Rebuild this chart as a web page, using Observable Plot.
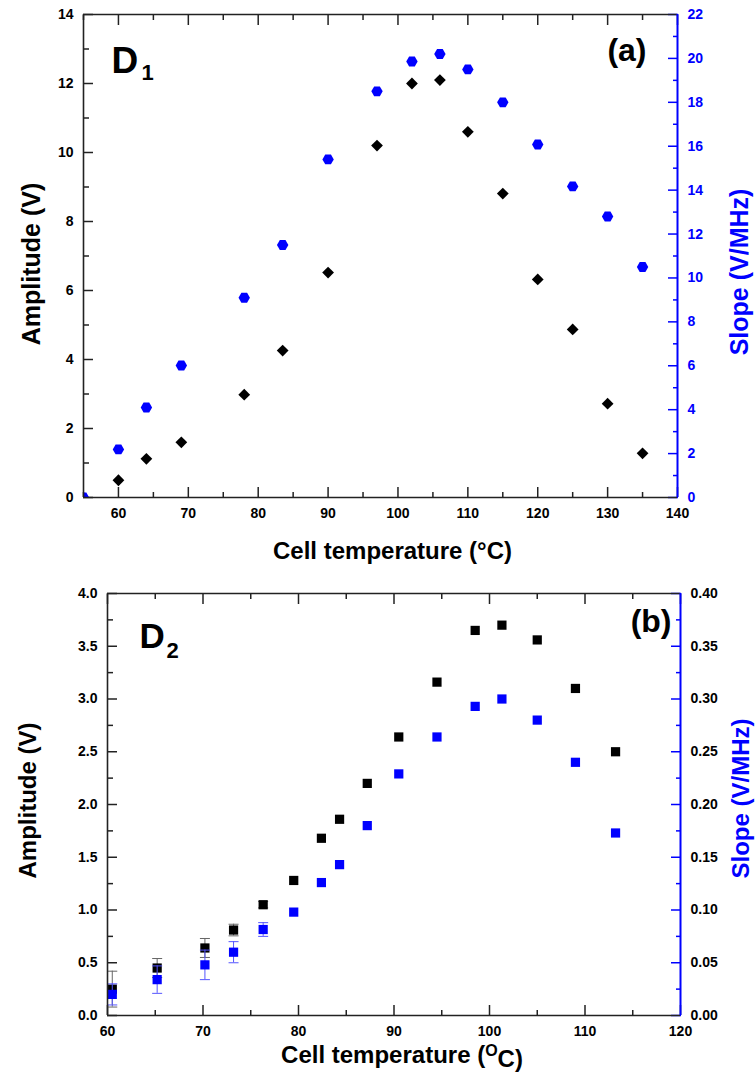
<!DOCTYPE html>
<html><head><meta charset="utf-8">
<script src="https://cdn.jsdelivr.net/npm/d3@7"></script>
<script src="https://cdn.jsdelivr.net/npm/@observablehq/plot@0.6"></script>
<style>
body{margin:0;background:#fff;}
#wrap{width:756px;height:1074px;}
#wrap svg{display:block;}
</style></head><body><div id="wrap"></div>
<script>
// ---------- Panel (a) data ----------
const tempAmpA  = [60, 64, 69, 78, 83.5, 90, 97, 102, 106, 110, 115, 120, 125, 130, 135];
const ampA      = [0.5, 1.12, 1.6, 2.98, 4.26, 6.52, 10.2, 12.0, 12.1, 10.6, 8.81, 6.32, 4.87, 2.72, 1.28];
const tempSlopeA = [55, 60, 64, 69, 78, 83.5, 90, 97, 102, 106, 110, 115, 120, 125, 130, 135];
const slopeA    = [0, 2.19, 4.1, 6.01, 9.1, 11.5, 15.4, 18.5, 19.86, 20.2, 19.5, 18.0, 16.08, 14.17, 12.8, 10.5];
const xDomA = [55, 140], yDomA = [0, 14], y2DomA = [0, 22];
const xMajorA = [60, 70, 80, 90, 100, 110, 120, 130, 140];
const xMinorA = [55, 65, 75, 85, 95, 105, 115, 125, 135];
const yMajorA = [0, 2, 4, 6, 8, 10, 12, 14];
const yMinorA = [1, 3, 5, 7, 9, 11, 13];
const y2MajorA = [0, 2, 4, 6, 8, 10, 12, 14, 16, 18, 20, 22];
const y2MinorA = [1, 3, 5, 7, 9, 11, 13, 15, 17, 19, 21];

// ---------- Panel (b) data ----------
const tempB  = [60.5, 65.2, 70.2, 73.2, 76.3, 79.5, 82.4, 84.3, 87.2, 90.5, 94.5, 98.5, 101.3, 105, 109, 113.2];
const ampB   = [0.25, 0.45, 0.64, 0.81, 1.05, 1.28, 1.68, 1.86, 2.2, 2.64, 3.16, 3.65, 3.7, 3.56, 3.1, 2.5];
const slopeB = [0.02, 0.034, 0.048, 0.06, 0.0815, 0.098, 0.126, 0.143, 0.18, 0.229, 0.264, 0.293, 0.30, 0.28, 0.24, 0.173];
const errTempB  = [60.5, 65.2, 70.2, 73.2, 76.3];
const ampErrB   = [0.17, 0.09, 0.09, 0.055, 0.03];
const slopeErrB = [0.01, 0.013, 0.014, 0.01, 0.0065];
const xDomB = [60, 120], yDomB = [0, 4], y2DomB = [0, 0.4];
const xMajorB = [60, 70, 80, 90, 100, 110, 120];
const xMinorB = [65, 75, 85, 95, 105, 115];
const yMajorB = [0, 0.5, 1, 1.5, 2, 2.5, 3, 3.5, 4];
const yMinorB = [0.25, 0.75, 1.25, 1.75, 2.25, 2.75, 3.25, 3.75];
const y2MajorB = [0, 0.05, 0.1, 0.15, 0.2, 0.25, 0.3, 0.35, 0.4];
const y2MinorB = [0.025, 0.075, 0.125, 0.175, 0.225, 0.275, 0.325, 0.375];

const BLUE = "#0000ff";
const FONT = "'Liberation Sans', Arial, Helvetica, sans-serif";

const hexagon = {
  draw(ctx, size) {
    const r = Math.sqrt(size / Math.PI);
    for (let i = 0; i < 6; i++) {
      const a = Math.PI / 3 * i;
      const px = r * Math.cos(a), py = r * Math.sin(a);
      if (i === 0) ctx.moveTo(px, py); else ctx.lineTo(px, py);
    }
    ctx.closePath();
  }
};
const capSymbol = {
  draw(ctx, size) {
    const r = Math.sqrt(size / Math.PI);
    ctx.moveTo(-r, 0); ctx.lineTo(r, 0);
  }
};

function frameMarks(xDom, yDom) {
  return [
    Plot.ruleY([yDom[0], yDom[1]], {stroke: "#222", strokeWidth: 1.6}),
    Plot.ruleX([xDom[0]], {stroke: "#222", strokeWidth: 1.6}),
    Plot.ruleX([xDom[1]], {stroke: BLUE, strokeWidth: 2})
  ];
}
function tickMarks(o) {
  const r = o.ratio;
  const y2Maj = o.y2Major.map(v => v * r), y2Min = o.y2Minor.map(v => v * r);
  const tk = (stroke) => ({fill: "none", label: null, stroke, strokeWidth: 1.5});
  return [
    Plot.axisX(o.xMajor, {anchor: "bottom", tickSize: -10, ...tk("#222")}),
    Plot.axisX(o.xMinor, {anchor: "bottom", tickSize: -5, ...tk("#222")}),
    Plot.axisX(o.xMajor, {anchor: "top", tickSize: -10, ...tk("#222")}),
    Plot.axisX(o.xMinor, {anchor: "top", tickSize: -5, ...tk("#222")}),
    Plot.axisX(o.xMajor, {anchor: "bottom", tickSize: 0, tickPadding: 11, tickFormat: d => String(d),
      label: null, fontSize: 14, fontWeight: "bold", fill: "#000"}),
    Plot.axisY(o.yMajor, {anchor: "left", tickSize: -10, ...tk("#222")}),
    Plot.axisY(o.yMinor, {anchor: "left", tickSize: -6, ...tk("#222")}),
    Plot.axisY(o.yMajor, {anchor: "left", tickSize: 0, tickPadding: 10, tickFormat: o.yFmt,
      label: null, fontSize: 14, fontWeight: "bold", fill: "#000"}),
    Plot.axisY(y2Maj, {anchor: "right", tickSize: -10, ...tk(BLUE)}),
    Plot.axisY(y2Min, {anchor: "right", tickSize: -5, ...tk(BLUE)}),
    Plot.axisY(y2Maj, {anchor: "right", tickSize: 0, tickPadding: 10, tickFormat: d => o.y2Fmt(d / r),
      label: null, fontSize: 14, fontWeight: "bold", fill: o.y2TextColor})
  ];
}

// ---------- Panel (a) ----------
const ratioA = yDomA[1] / y2DomA[1];
const plotA = Plot.plot({
  width: 756, height: 570,
  marginLeft: 83, marginRight: 79, marginTop: 14, marginBottom: 73,
  x: {domain: xDomA}, y: {domain: yDomA},
  style: {fontFamily: FONT, background: "#fff"},
  marks: [
    ...tickMarks({xMajor: xMajorA, xMinor: xMinorA, yMajor: yMajorA, yMinor: yMinorA,
      y2Major: y2MajorA, y2Minor: y2MinorA, ratio: ratioA,
      yFmt: d => String(Math.round(d)), y2Fmt: v => String(Math.round(v)), y2TextColor: BLUE}),
    Plot.dot(tempSlopeA.map((t, i) => ({t, v: slopeA[i] * ratioA})),
      {x: "t", y: "v", symbol: hexagon, r: 5.7, fill: BLUE, stroke: null, clip: true}),
    Plot.dot(tempAmpA.map((t, i) => ({t, v: ampA[i]})),
      {x: "t", y: "v", symbol: "diamond2", r: 5.3, fill: "#000", stroke: null}),
    ...frameMarks(xDomA, yDomA),
    Plot.text(["Amplitude (V)"], {text: d => d, frameAnchor: "left", dx: -52, dy: 8, rotate: -90,
      textAnchor: "middle", lineAnchor: "middle", fontSize: 25, fontWeight: "bold", fill: "#000"}),
    Plot.text(["Slope (V/MHz)"], {text: d => d, frameAnchor: "right", dx: 62, dy: 16, rotate: -90,
      textAnchor: "middle", lineAnchor: "middle", fontSize: 25, fontWeight: "bold", fill: BLUE}),
    Plot.text(["Cell temperature (°C)"], {text: d => d, frameAnchor: "bottom", dx: 12, dy: 54,
      textAnchor: "middle", lineAnchor: "middle", fontSize: 24, fontWeight: "bold", fill: "#000"}),
    Plot.text(["D"], {text: d => d, frameAnchor: "top-left", dx: 28, dy: 58, textAnchor: "start",
      lineAnchor: "bottom", fontSize: 37, fontWeight: "bold", fill: "#000"}),
    Plot.text(["1"], {text: d => d, frameAnchor: "top-left", dx: 58, dy: 65, textAnchor: "start",
      lineAnchor: "bottom", fontSize: 22, fontWeight: "bold", fill: "#000"}),
    Plot.text(["(a)"], {text: d => d, frameAnchor: "top-right", dx: -31, dy: 46, textAnchor: "end",
      lineAnchor: "bottom", fontSize: 32, fontWeight: "bold", fill: "#000"})
  ]
});

// ---------- Panel (b) ----------
const ratioB = yDomB[1] / y2DomB[1];
const errB = errTempB.map((t, i) => {
  const j = tempB.indexOf(t);
  return {t, a: ampB[j], ae: ampErrB[i], s: slopeB[j] * ratioB, se: slopeErrB[i] * ratioB};
});
const plotB = Plot.plot({
  width: 756, height: 504,
  marginLeft: 107, marginRight: 76, marginTop: 23, marginBottom: 59,
  x: {domain: xDomB}, y: {domain: yDomB},
  style: {fontFamily: FONT, background: "#fff"},
  marks: [
    ...tickMarks({xMajor: xMajorB, xMinor: xMinorB, yMajor: yMajorB, yMinor: yMinorB,
      y2Major: y2MajorB, y2Minor: y2MinorB, ratio: ratioB,
      yFmt: d => d.toFixed(1), y2Fmt: v => v.toFixed(2), y2TextColor: "#000"}),
    Plot.ruleX(errB, {x: "t", y1: d => d.a - d.ae, y2: d => d.a + d.ae, stroke: "#666", strokeWidth: 1}),
    Plot.dot(errB, {x: "t", y: d => d.a + d.ae, symbol: capSymbol, r: 5, stroke: "#666", strokeWidth: 1, fill: null}),
    Plot.dot(errB, {x: "t", y: d => d.a - d.ae, symbol: capSymbol, r: 5, stroke: "#666", strokeWidth: 1, fill: null}),
    Plot.dot(tempB.map((t, i) => ({t, v: ampB[i]})),
      {x: "t", y: "v", symbol: "square", r: 5.2, fill: "#000", stroke: null}),
    Plot.ruleX(errB, {x: "t", y1: d => d.s - d.se, y2: d => d.s + d.se, stroke: "#5555ff", strokeWidth: 1}),
    Plot.dot(errB, {x: "t", y: d => d.s + d.se, symbol: capSymbol, r: 5, stroke: "#5555ff", strokeWidth: 1, fill: null}),
    Plot.dot(errB, {x: "t", y: d => d.s - d.se, symbol: capSymbol, r: 5, stroke: "#5555ff", strokeWidth: 1, fill: null}),
    Plot.dot(tempB.map((t, i) => ({t, v: slopeB[i] * ratioB})),
      {x: "t", y: "v", symbol: "square", r: 5.2, fill: BLUE, stroke: null}),
    ...frameMarks(xDomB, yDomB),
    Plot.text(["Amplitude (V)"], {text: d => d, frameAnchor: "left", dx: -79, dy: -4, rotate: -90,
      textAnchor: "middle", lineAnchor: "middle", fontSize: 24, fontWeight: "bold", fill: "#000"}),
    Plot.text(["Slope (V/MHz)"], {text: d => d, frameAnchor: "right", dx: 61, dy: -6, rotate: -90,
      textAnchor: "middle", lineAnchor: "middle", fontSize: 24, fontWeight: "bold", fill: BLUE}),
    Plot.text(["Cell temperature (OC)"], {text: d => d, frameAnchor: "bottom", dx: 8, dy: 40,
      textAnchor: "middle", lineAnchor: "middle", fontSize: 24, fontWeight: "bold", fill: "#000"}),
    Plot.text(["D"], {text: d => d, frameAnchor: "top-left", dx: 32, dy: 54, textAnchor: "start",
      lineAnchor: "bottom", fontSize: 35, fontWeight: "bold", fill: "#000"}),
    Plot.text(["2"], {text: d => d, frameAnchor: "top-left", dx: 59, dy: 64, textAnchor: "start",
      lineAnchor: "bottom", fontSize: 22, fontWeight: "bold", fill: "#000"}),
    Plot.text(["(b)"], {text: d => d, frameAnchor: "top-right", dx: -9, dy: 38, textAnchor: "end",
      lineAnchor: "bottom", fontSize: 32, fontWeight: "bold", fill: "#000"})
  ]
});

// superscript O in panel (b) x title
d3.select(plotB).selectAll("text").filter(function() { return this.textContent === "Cell temperature (OC)"; })
  .each(function() {
    const t = d3.select(this);
    t.text(null);
    t.append("tspan").text("Cell temperature (");
    t.append("tspan").attr("dy", "-0.45em").attr("font-size", "16px").text("O");
    t.append("tspan").attr("dy", "0.45em").text("C)");
  });

document.getElementById("wrap").append(plotA, plotB);
</script></body></html>
